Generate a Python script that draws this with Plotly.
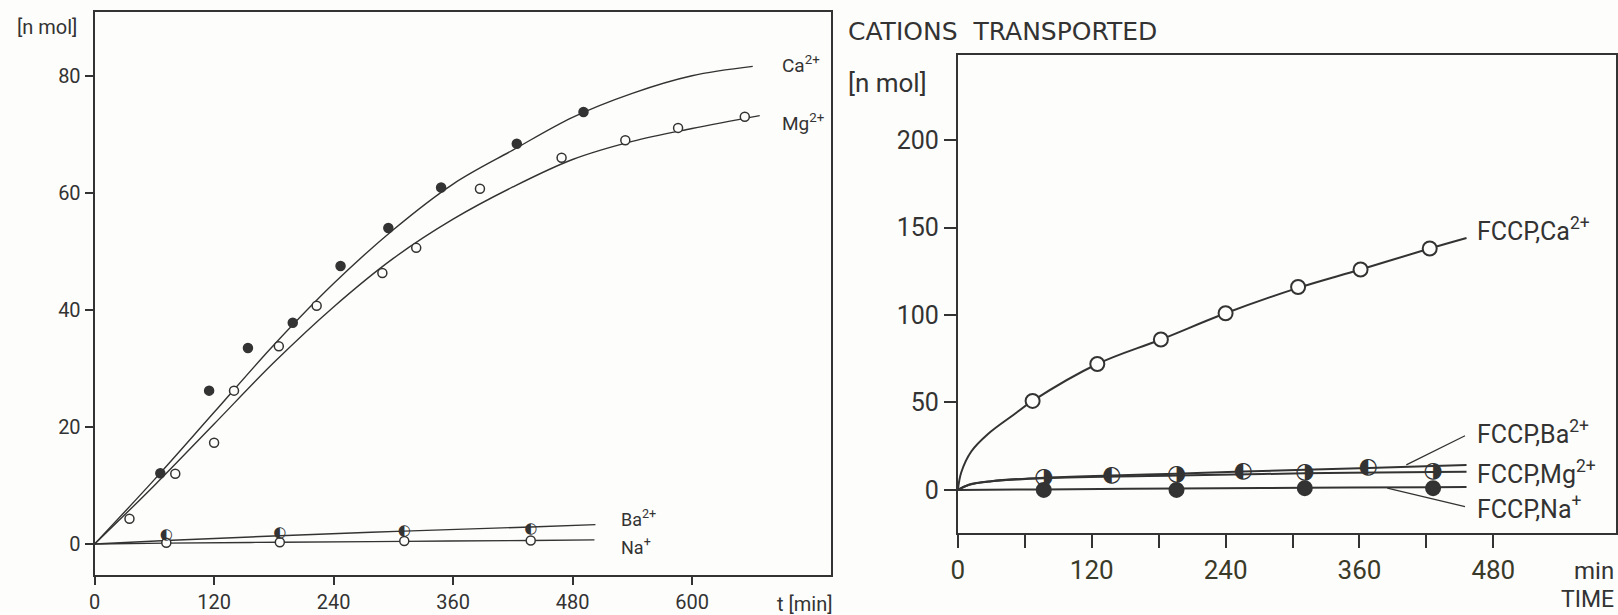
import plotly.graph_objects as go

# ---------------- Left panel data ----------------
ca_pts_t = [66, 115, 154, 199, 247, 295, 348, 424, 491]
ca_pts_v = [12.1, 26.2, 33.5, 37.8, 47.5, 54.0, 60.9, 68.4, 73.8]
mg_pts_t = [35, 81, 120, 140, 185, 223, 289, 323, 387, 469, 533, 586, 653]
mg_pts_v = [4.3, 12.0, 17.3, 26.2, 33.8, 40.7, 46.3, 50.6, 60.7, 66.0, 69.0, 71.1, 73.0]
ba_pts_t = [72, 186, 311, 438]
ba_pts_v = [1.5, 1.9, 2.1, 2.5]
na_pts_t = [72, 186, 311, 438]
na_pts_v = [0.2, 0.3, 0.5, 0.6]

ca_curve_t = [0, 60, 120, 180, 240, 300, 360, 420, 480, 540, 600, 661]
ca_curve_v = [0, 11.0, 22.5, 34.0, 44.5, 53.7, 61.5, 67.3, 72.9, 77.0, 80.0, 81.6]
mg_curve_t = [0, 60, 120, 180, 240, 300, 360, 420, 480, 540, 600, 668]
mg_curve_v = [0, 10.0, 20.5, 31.0, 40.5, 48.8, 55.5, 61.0, 65.7, 68.8, 71.0, 73.2]
ba_curve_t = [0, 72, 186, 311, 438, 503]
ba_curve_v = [0, 0.6, 1.4, 2.2, 2.9, 3.3]
na_curve_t = [0, 72, 186, 311, 438, 502]
na_curve_v = [0, 0.15, 0.3, 0.45, 0.6, 0.7]

left_xticks = [0, 120, 240, 360, 480, 600]
left_yticks = [0, 20, 40, 60, 80]

# ---------------- Right panel data ----------------
fca_pts_t = [67, 125, 182, 240, 305, 361, 423]
fca_pts_v = [50.9, 72.0, 86.0, 101.0, 116.0, 126.0, 138.0]
fca_curve_t = [0, 3, 12, 27, 50, 67, 125, 182, 240, 305, 361, 423, 456]
fca_curve_v = [0, 10, 22, 32, 43, 50.9, 72, 86, 101, 115.5, 126, 138, 144]

fba_pts_t = [138, 256, 368]
fba_pts_v = [8.0, 10.3, 12.6]
fba_curve_t = [0, 10, 30, 77, 138, 196, 256, 368, 456]
fba_curve_v = [0, 3.0, 5.0, 7.0, 8.3, 9.3, 10.5, 12.6, 14.3]

fmg_pts_t = [77, 196, 311, 426]
fmg_pts_v = [6.9, 9.0, 9.8, 10.3]
fmg_curve_t = [0, 10, 30, 77, 196, 311, 426, 456]
fmg_curve_v = [0, 3.0, 5.0, 6.7, 8.2, 9.5, 10.2, 10.4]

fna_pts_t = [77, 196, 311, 426]
fna_pts_v = [0.0, 0.0, 1.0, 1.0]
fna_curve_t = [0, 77, 196, 311, 426, 456]
fna_curve_v = [0, 0.3, 0.8, 1.2, 1.6, 1.7]

right_xticks = [0, 60, 120, 180, 240, 300, 360, 420, 480]
right_xlabels = ["0", "", "120", "", "240", "", "360", "", "480"]
right_yticks = [0, 50, 100, 150, 200]

INK = "#333333"
BG = "#fdfdfb"
FONT = "Roboto"

fig = go.Figure()

def curve(x, y, xa, ya, w):
    fig.add_trace(go.Scatter(x=x, y=y, mode="lines", line=dict(color=INK, width=w, shape="spline"),
                             xaxis=xa, yaxis=ya, showlegend=False, hoverinfo="skip"))

def pts(x, y, xa, ya, size, fill, lw=1.5):
    fig.add_trace(go.Scatter(x=x, y=y, mode="markers",
                             marker=dict(symbol="circle", size=size, color=fill, line=dict(color=INK, width=lw)),
                             xaxis=xa, yaxis=ya, showlegend=False))

def glyph(x, y, xa, ya, g, size):
    fig.add_trace(go.Scatter(x=x, y=y, mode="text", text=[g] * len(x), textposition="middle center",
                             textfont=dict(family="DejaVu Sans", size=size, color=INK),
                             xaxis=xa, yaxis=ya, showlegend=False))

# Left panel
curve(ca_curve_t, ca_curve_v, "x", "y", 1.4)
curve(mg_curve_t, mg_curve_v, "x", "y", 1.4)
curve(ba_curve_t, ba_curve_v, "x", "y", 1.4)
curve(na_curve_t, na_curve_v, "x", "y", 1.4)
pts(ca_pts_t, ca_pts_v, "x", "y", 9, INK)
pts(mg_pts_t, mg_pts_v, "x", "y", 9, BG)
pts(na_pts_t, na_pts_v, "x", "y", 9, BG)
glyph(ba_pts_t, ba_pts_v, "x", "y", "◐", 15)

# Right panel
curve(fca_curve_t, fca_curve_v, "x2", "y2", 2)
curve(fba_curve_t, fba_curve_v, "x2", "y2", 2)
curve(fmg_curve_t, fmg_curve_v, "x2", "y2", 2)
curve(fna_curve_t, fna_curve_v, "x2", "y2", 2)
pts(fca_pts_t, fca_pts_v, "x2", "y2", 14, BG, 2)
pts(fna_pts_t, fna_pts_v, "x2", "y2", 14, INK, 2)
glyph(fmg_pts_t, fmg_pts_v, "x2", "y2", "◑", 22)
glyph(fba_pts_t, fba_pts_v, "x2", "y2", "◐", 22)

W, H = 1618, 615
axline = dict(showline=True, linecolor=INK, linewidth=2, mirror=True, showgrid=False, zeroline=False,
              ticks="outside", tickcolor=INK)

fig.update_layout(
    width=W, height=H, margin=dict(l=0, r=0, t=0, b=0),
    paper_bgcolor=BG, plot_bgcolor=BG, showlegend=False,
    font=dict(family=FONT, color=INK),
    xaxis=dict(**axline, domain=[88 / W, 828 / W], range=[0, 740], tickvals=left_xticks,
               ticklen=8, tickwidth=1.5, tickfont=dict(size=20), anchor="y"),
    yaxis=dict(**axline, domain=[1 - 575 / H, 1 - 12 / H], range=[-5.3, 90.9], tickvals=left_yticks,
               ticklen=8, tickwidth=1.5, tickfont=dict(size=20), anchor="x"),
    xaxis2=dict(**axline, domain=[955 / W, 1616 / W], range=[0, 590], tickvals=right_xticks,
                ticktext=right_xlabels, ticklen=13, tickwidth=2, tickfont=dict(size=26, color="#3a3a28"),
                anchor="y2"),
    yaxis2=dict(**axline, domain=[1 - 533 / H, 1 - 55 / H], range=[-24.6, 248.6], tickvals=right_yticks,
                ticklen=12, tickwidth=2, tickfont=dict(size=25), anchor="x2"),
)

ann = []
def label(text, x, y, xref, yref, size, xanchor="left", yanchor="middle", family=FONT):
    ann.append(dict(text=text, x=x, y=y, xref=xref, yref=yref, showarrow=False, xanchor=xanchor,
                    yanchor=yanchor, font=dict(size=size, family=family, color=INK)))

# left labels
label("Ca<sup>2+</sup>", 688, 82, "x", "y", 19)
label("Mg<sup>2+</sup>", 688, 72, "x", "y", 19)
label("Ba<sup>2+</sup>", 527, 4.5, "x", "y", 18)
label("Na<sup>+</sup>", 527, -0.4, "x", "y", 18)
label("[n mol]", 8 / W, 1 - 27 / H, "paper", "paper", 20)
label("t [min]", 832 / W, 1 - 604 / H, "paper", "paper", 20, xanchor="right")

# right labels
label("FCCP,Ca<sup>2+</sup>", 464, 149, "x2", "y2", 25)
label("FCCP,Ba<sup>2+</sup>", 464, 32.6, "x2", "y2", 25)
label("FCCP,Mg<sup>2+</sup>", 464, 9.7, "x2", "y2", 25)
label("FCCP,Na<sup>+</sup>", 464, -10.3, "x2", "y2", 25)
label("CATIONS\u00a0\u00a0TRANSPORTED", 843 / W, 1 - 31 / H, "paper", "paper", 25, family="DejaVu Sans")
label("[n mol]", 843 / W, 1 - 83 / H, "paper", "paper", 26)
label("min", 1616 / W, 1 - 571 / H, "paper", "paper", 24, xanchor="right")
label("TIME", 1616 / W, 1 - 599 / H, "paper", "paper", 23, xanchor="right")

# leader lines
ann.append(dict(x=402, y=14.3, ax=456, ay=31.4, xref="x2", yref="y2", axref="x2", ayref="y2",
                showarrow=True, arrowhead=0, arrowwidth=1.3, arrowcolor=INK, text=""))
ann.append(dict(x=385, y=1.1, ax=456, ay=-9.7, xref="x2", yref="y2", axref="x2", ayref="y2",
                showarrow=True, arrowhead=0, arrowwidth=1.3, arrowcolor=INK, text=""))

fig.update_layout(annotations=ann)
fig.write_html("out.html", config={"displayModeBar": False},
               post_script="document.body.style.margin='0';document.body.style.overflow='hidden';")
